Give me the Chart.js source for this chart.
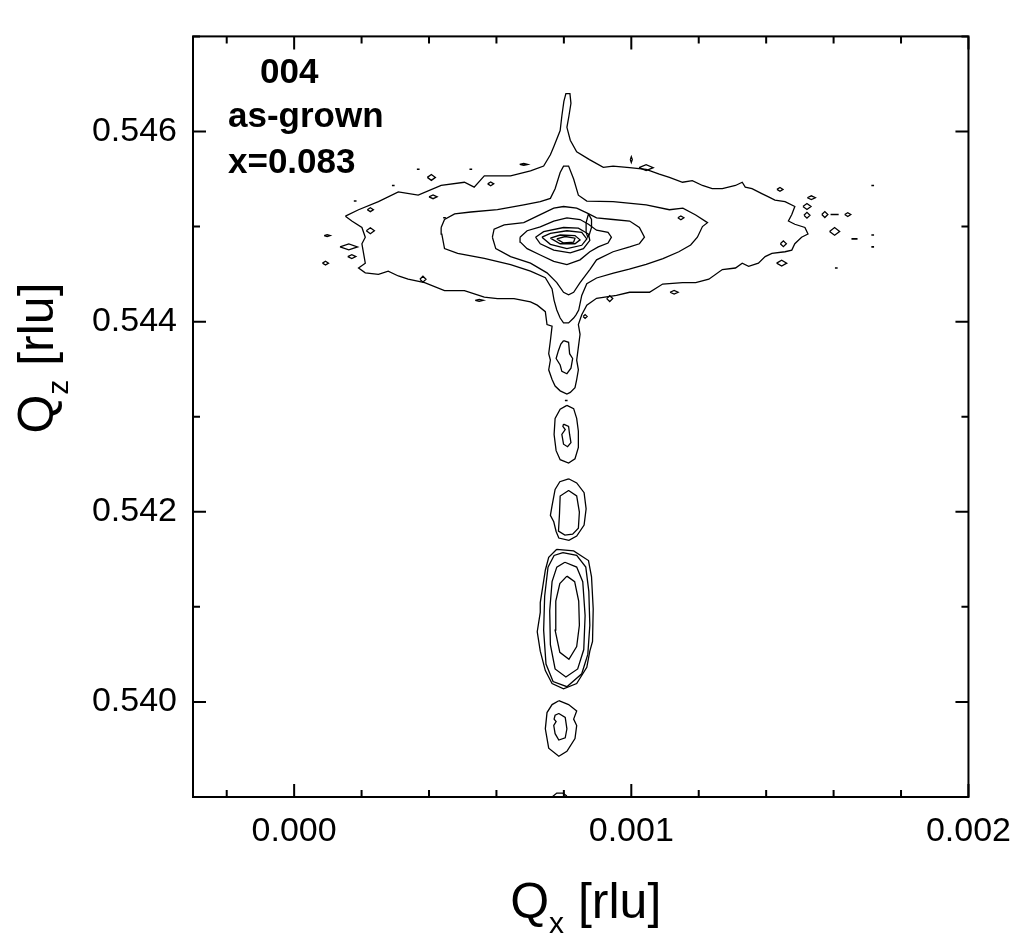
<!DOCTYPE html>
<html><head><meta charset="utf-8">
<script src="https://cdn.jsdelivr.net/npm/chart.js@4.4.1/dist/chart.umd.min.js"></script>
<style>html,body{margin:0;padding:0;background:#fff}#wrap{width:1025px;height:940px}</style>
</head><body><div id="wrap"><canvas id="c" width="1025" height="940"></canvas></div>
<script>
// ---- axes ----
const xRange = [-0.0003, 0.002];
const yRange = [0.539, 0.547];
const xMajorTicks = [0.000, 0.001, 0.002];
const xMinorTicks = [-0.0002, 0.0002, 0.0004, 0.0006, 0.0008, 0.0012, 0.0014, 0.0016, 0.0018];
const yMajorTicks = [0.540, 0.542, 0.544, 0.546];
const yMinorTicks = [0.539, 0.541, 0.543, 0.545, 0.547];
const xTitle = ['Q', 'x', ' [rlu]'];
const yTitle = ['Q', 'z', ' [rlu]'];
const annotation = ['004', 'as-grown', 'x=0.083'];

// ---- contour lines [Qx, Qz] in rlu ----
const layerOuter = [[0.000152,0.545109],[0.000191,0.545177],[0.000250,0.545262],[0.000309,0.545364],[0.000368,0.545330],[0.000436,0.545432],[0.000505,0.545466],[0.000534,0.545415],[0.000564,0.545534],[0.000642,0.545534],[0.000701,0.545585],[0.000740,0.545636],[0.000760,0.545755],[0.000770,0.545840],[0.000789,0.546010],[0.000794,0.546163],[0.000800,0.546316],[0.000806,0.546398],[0.000818,0.546398],[0.000821,0.546296],[0.000815,0.546163],[0.000809,0.546044],[0.000819,0.545908],[0.000838,0.545786],[0.000876,0.545704],[0.000917,0.545622],[0.000946,0.545636],[0.000995,0.545619],[0.001044,0.545602],[0.001083,0.545551],[0.001113,0.545517],[0.001152,0.545466],[0.001181,0.545483],[0.001211,0.545432],[0.001240,0.545398],[0.001270,0.545398],[0.001309,0.545432],[0.001329,0.545466],[0.001338,0.545415],[0.001358,0.545398],[0.001387,0.545347],[0.001407,0.545313],[0.001426,0.545279],[0.001456,0.545262],[0.001485,0.545211],[0.001476,0.545126],[0.001466,0.545058],[0.001485,0.545024],[0.001515,0.544990],[0.001524,0.544921],[0.001505,0.544888],[0.001485,0.544819],[0.001476,0.544752],[0.001456,0.544735],[0.001417,0.544717],[0.001397,0.544684],[0.001377,0.544615],[0.001348,0.544582],[0.001329,0.544615],[0.001309,0.544564],[0.001270,0.544548],[0.001230,0.544446],[0.001191,0.544411],[0.001152,0.544411],[0.001093,0.544395],[0.001054,0.544309],[0.000995,0.544309],[0.000956,0.544276],[0.000897,0.544245],[0.000868,0.544173],[0.000853,0.544072],[0.000843,0.543969],[0.000848,0.543867],[0.000843,0.543732],[0.000838,0.543595],[0.000843,0.543493],[0.000838,0.543391],[0.000833,0.543306],[0.000819,0.543255],[0.000809,0.543238],[0.000789,0.543272],[0.000774,0.543323],[0.000765,0.543391],[0.000755,0.543493],[0.000760,0.543595],[0.000755,0.543663],[0.000760,0.543799],[0.000765,0.543952],[0.000750,0.543969],[0.000745,0.544105],[0.000721,0.544173],[0.000701,0.544207],[0.000652,0.544242],[0.000603,0.544242],[0.000564,0.544258],[0.000505,0.544327],[0.000446,0.544327],[0.000387,0.544411],[0.000338,0.544446],[0.000309,0.544480],[0.000279,0.544531],[0.000250,0.544497],[0.000211,0.544513],[0.000191,0.544564],[0.000211,0.544615],[0.000201,0.544819],[0.000211,0.544888],[0.000201,0.544990],[0.000171,0.545058]];
const layerCross = [[0.000436,0.544990],[0.000446,0.545074],[0.000476,0.545133],[0.000524,0.545153],[0.000603,0.545177],[0.000681,0.545228],[0.000730,0.545262],[0.000760,0.545296],[0.000774,0.545398],[0.000789,0.545568],[0.000799,0.545636],[0.000814,0.545636],[0.000829,0.545500],[0.000843,0.545330],[0.000868,0.545268],[0.000946,0.545262],[0.001044,0.545228],[0.001113,0.545177],[0.001153,0.545194],[0.001191,0.545122],[0.001226,0.545041],[0.001211,0.545000],[0.001196,0.544888],[0.001176,0.544806],[0.001141,0.544735],[0.001094,0.544663],[0.001044,0.544602],[0.000994,0.544551],[0.000947,0.544510],[0.000897,0.544459],[0.000868,0.544398],[0.000853,0.544276],[0.000844,0.544122],[0.000836,0.544072],[0.000829,0.544038],[0.000814,0.543987],[0.000799,0.543987],[0.000789,0.544038],[0.000779,0.544122],[0.000771,0.544224],[0.000765,0.544344],[0.000745,0.544462],[0.000701,0.544531],[0.000642,0.544599],[0.000564,0.544666],[0.000485,0.544717],[0.000446,0.544768],[0.000438,0.544921]];
const layerDiamond = [[0.000588,0.544888],[0.000593,0.544972],[0.000623,0.545017],[0.000681,0.545041],[0.000730,0.545126],[0.000770,0.545194],[0.000799,0.545211],[0.000838,0.545194],[0.000868,0.545143],[0.000897,0.545092],[0.000946,0.545074],[0.000995,0.545058],[0.001024,0.544990],[0.001039,0.544888],[0.001024,0.544819],[0.000995,0.544786],[0.000946,0.544735],[0.000897,0.544650],[0.000877,0.544548],[0.000848,0.544411],[0.000829,0.544309],[0.000814,0.544283],[0.000799,0.544309],[0.000779,0.544411],[0.000750,0.544513],[0.000701,0.544615],[0.000642,0.544684],[0.000598,0.544768]];
const layerL4 = [[0.000670,0.544888],[0.000691,0.544956],[0.000730,0.544997],[0.000770,0.545058],[0.000809,0.545092],[0.000848,0.545074],[0.000873,0.545024],[0.000897,0.544962],[0.000931,0.544939],[0.000941,0.544888],[0.000931,0.544827],[0.000902,0.544786],[0.000877,0.544735],[0.000848,0.544650],[0.000809,0.544599],[0.000770,0.544633],[0.000730,0.544701],[0.000691,0.544768],[0.000671,0.544837]];
const layerL5 = [[0.000716,0.544888],[0.000740,0.544946],[0.000799,0.544990],[0.000843,0.544983],[0.000873,0.544921],[0.000877,0.544854],[0.000858,0.544768],[0.000819,0.544724],[0.000770,0.544752],[0.000730,0.544819]];
const layerL6 = [[0.000735,0.544888],[0.000760,0.544929],[0.000809,0.544956],[0.000853,0.544939],[0.000868,0.544870],[0.000853,0.544803],[0.000809,0.544768],[0.000760,0.544813]];
const layerL7 = [[0.000760,0.544878],[0.000789,0.544911],[0.000833,0.544905],[0.000848,0.544860],[0.000833,0.544819],[0.000789,0.544819]];
const layerL8 = [[0.000779,0.544870],[0.000804,0.544895],[0.000833,0.544878],[0.000829,0.544837],[0.000799,0.544827]];
const layerLens = [[0.000873,0.545133],[0.000882,0.545074],[0.000882,0.544990],[0.000876,0.544921],[0.000871,0.544888],[0.000866,0.544939],[0.000866,0.545041]];
const streakInner = [[0.000799,0.543799],[0.000814,0.543783],[0.000817,0.543663],[0.000826,0.543612],[0.000821,0.543510],[0.000809,0.543452],[0.000794,0.543477],[0.000789,0.543544],[0.000777,0.543612],[0.000784,0.543697],[0.000791,0.543765]];
const sat1Outer = [[0.000809,0.543119],[0.000829,0.543085],[0.000838,0.542983],[0.000843,0.542847],[0.000843,0.542677],[0.000833,0.542558],[0.000814,0.542513],[0.000789,0.542548],[0.000777,0.542643],[0.000771,0.542813],[0.000774,0.542983],[0.000789,0.543079]];
const sat1Inner = [[0.000799,0.542922],[0.000814,0.542898],[0.000817,0.542813],[0.000821,0.542728],[0.000811,0.542684],[0.000799,0.542711],[0.000794,0.542813],[0.000804,0.542864],[0.000797,0.542898]];
const sat2Outer = [[0.000814,0.542347],[0.000838,0.542303],[0.000860,0.542201],[0.000866,0.542031],[0.000860,0.541860],[0.000838,0.541745],[0.000815,0.541699],[0.000785,0.541724],[0.000777,0.541793],[0.000770,0.541895],[0.000760,0.541962],[0.000765,0.542064],[0.000774,0.542235],[0.000788,0.542316]];
const sat2Inner = [[0.000814,0.542224],[0.000838,0.542166],[0.000846,0.541997],[0.000843,0.541827],[0.000826,0.541765],[0.000803,0.541755],[0.000784,0.541796],[0.000787,0.541980],[0.000789,0.542166]];
const subC1 = [[0.000779,0.541605],[0.000829,0.541589],[0.000873,0.541487],[0.000882,0.541316],[0.000887,0.540977],[0.000885,0.540636],[0.000877,0.540534],[0.000868,0.540364],[0.000838,0.540194],[0.000799,0.540138],[0.000765,0.540194],[0.000745,0.540330],[0.000730,0.540534],[0.000721,0.540738],[0.000730,0.540942],[0.000730,0.541044],[0.000745,0.541385],[0.000755,0.541520]];
const subC2 = [[0.000797,0.541571],[0.000838,0.541541],[0.000865,0.541418],[0.000874,0.541163],[0.000877,0.540806],[0.000871,0.540500],[0.000853,0.540296],[0.000809,0.540160],[0.000768,0.540214],[0.000747,0.540398],[0.000740,0.540755],[0.000743,0.541112],[0.000753,0.541418],[0.000771,0.541541]];
const subC3 = [[0.000803,0.541469],[0.000838,0.541418],[0.000856,0.541265],[0.000863,0.540908],[0.000859,0.540551],[0.000841,0.540347],[0.000806,0.540262],[0.000774,0.540347],[0.000760,0.540602],[0.000758,0.540959],[0.000765,0.541265],[0.000779,0.541418]];
const subC4 = [[0.000809,0.541323],[0.000832,0.541265],[0.000844,0.541061],[0.000846,0.540806],[0.000838,0.540582],[0.000815,0.540449],[0.000788,0.540521],[0.000774,0.540755],[0.000776,0.541061],[0.000788,0.541245]];
const sat3Outer = [[0.000785,0.540013],[0.000814,0.539972],[0.000838,0.539905],[0.000829,0.539819],[0.000838,0.539752],[0.000833,0.539615],[0.000809,0.539480],[0.000785,0.539429],[0.000755,0.539513],[0.000745,0.539717],[0.000750,0.539888],[0.000765,0.539972]];
const sat3Inner = [[0.000785,0.539878],[0.000804,0.539837],[0.000809,0.539717],[0.000804,0.539622],[0.000785,0.539599],[0.000774,0.539666],[0.000770,0.539752],[0.000777,0.539793],[0.000771,0.539819],[0.000774,0.539860]];
const bottomArc = [[0.000765,0.539000],[0.000779,0.539041],[0.000797,0.539041],[0.000809,0.539010]];
const islands = [
 [[0.000395,0.545517],[0.000407,0.545548],[0.000419,0.545517],[0.000407,0.545486]],
 [[0.000400,0.545313],[0.000412,0.545333],[0.000424,0.545313],[0.000412,0.545293]],
 [[0.000574,0.545449],[0.000583,0.545469],[0.000592,0.545449],[0.000583,0.545429]],
 [[0.000217,0.545177],[0.000226,0.545197],[0.000235,0.545177],[0.000226,0.545157]],
 [[0.000214,0.544956],[0.000226,0.544987],[0.000238,0.544956],[0.000226,0.544925]],
 [[0.000136,0.544786],[0.000162,0.544817],[0.000188,0.544786],[0.000162,0.544755]],
 [[0.000159,0.544684],[0.000171,0.544704],[0.000183,0.544684],[0.000171,0.544664]],
 [[0.000084,0.544615],[0.000093,0.544635],[0.000102,0.544615],[0.000093,0.544595]],
 [[0.000089,0.544905],[0.000098,0.544915],[0.000107,0.544905],[0.000098,0.544895]],
 [[0.000373,0.544446],[0.000382,0.544477],[0.000391,0.544446],[0.000382,0.544415]],
 [[0.000537,0.544224],[0.000549,0.544234],[0.000561,0.544224],[0.000549,0.544214]],
 [[0.000927,0.544242],[0.000936,0.544273],[0.000945,0.544242],[0.000936,0.544211]],
 [[0.001115,0.544309],[0.001127,0.544329],[0.001139,0.544309],[0.001127,0.544289]],
 [[0.001138,0.545092],[0.001147,0.545112],[0.001156,0.545092],[0.001147,0.545072]],
 [[0.001023,0.545619],[0.001044,0.545650],[0.001065,0.545619],[0.001044,0.545588]],
 [[0.000669,0.545653],[0.000681,0.545663],[0.000693,0.545653],[0.000681,0.545643]],
 [[0.000997,0.545704],[0.001000,0.545735],[0.001003,0.545704],[0.001000,0.545673]],
 [[0.000857,0.544054],[0.000863,0.544074],[0.000869,0.544054],[0.000863,0.544034]],
 [[0.001432,0.545391],[0.001441,0.545411],[0.001450,0.545391],[0.001441,0.545371]],
 [[0.001522,0.545303],[0.001534,0.545323],[0.001546,0.545303],[0.001534,0.545283]],
 [[0.001509,0.545211],[0.001521,0.545242],[0.001533,0.545211],[0.001521,0.545180]],
 [[0.001512,0.545119],[0.001521,0.545150],[0.001530,0.545119],[0.001521,0.545088]],
 [[0.001565,0.545126],[0.001574,0.545157],[0.001583,0.545126],[0.001574,0.545095]],
 [[0.001633,0.545126],[0.001642,0.545146],[0.001651,0.545126],[0.001642,0.545106]],
 [[0.001588,0.544949],[0.001603,0.544990],[0.001618,0.544949],[0.001603,0.544908]],
 [[0.001442,0.544819],[0.001451,0.544850],[0.001460,0.544819],[0.001451,0.544788]],
 [[0.001431,0.544615],[0.001446,0.544646],[0.001461,0.544615],[0.001446,0.544584]]
];
const dashes = [
 [[0.001591,0.545126],[0.001615,0.545126]],
 [[0.001653,0.544870],[0.001671,0.544870]],
 [[0.000364,0.545602],[0.000372,0.545602]],
 [[0.000290,0.545432],[0.000298,0.545432]],
 [[0.000177,0.545268],[0.000185,0.545268]],
 [[0.000520,0.545602],[0.000528,0.545602]],
 [[0.001604,0.544564],[0.001612,0.544564]],
 [[0.001712,0.545432],[0.001720,0.545432]],
 [[0.001712,0.544911],[0.001720,0.544911]],
 [[0.001712,0.544786],[0.001720,0.544786]],
 [[0.000442,0.545092],[0.000450,0.545092]],
 [[0.000803,0.543170],[0.000811,0.543170]]
];

const closedLoops = [layerOuter, layerCross, layerDiamond, layerL4, layerL5, layerL6, layerL7, layerL8, layerLens,
  streakInner, sat1Outer, sat1Inner, sat2Outer, sat2Inner, subC1, subC2, subC3, subC4, sat3Outer, sat3Inner];

function toPts(arr, close) {
  const p = arr.map(d => ({x: d[0], y: d[1]}));
  if (close) p.push({x: arr[0][0], y: arr[0][1]});
  return p;
}
function joinPieces(pieces, close) {
  const out = [];
  pieces.forEach((pc, i) => { if (i) out.push({x: NaN, y: null}); toPts(pc, close).forEach(q => out.push(q)); });
  return out;
}
const lineStyle = {showLine: true, pointRadius: 0, borderColor: '#000', borderWidth: 1.3, fill: false, tension: 0, spanGaps: false};
const datasets = closedLoops.map(c => Object.assign({data: toPts(c, true)}, lineStyle));
datasets.push(Object.assign({data: toPts(bottomArc, false)}, lineStyle));
datasets.push(Object.assign({data: joinPieces(islands, true)}, lineStyle));
datasets.push(Object.assign({data: joinPieces(dashes, false)}, lineStyle, {borderWidth: 1.6}));

const FONT = '"Liberation Sans", Arial, Helvetica, sans-serif';

function drawSubTitle(ctx, parts, size) {
  const f1 = size + 'px ' + FONT, f2 = Math.round(size * 0.6) + 'px ' + FONT;
  ctx.font = f1; const w1 = ctx.measureText(parts[0]).width, w3 = ctx.measureText(parts[2]).width;
  ctx.font = f2; const w2 = ctx.measureText(parts[1]).width;
  let xx = -(w1 + w2 + w3) / 2;
  ctx.font = f1; ctx.fillText(parts[0], xx, 0); xx += w1;
  ctx.font = f2; ctx.fillText(parts[1], xx, size * 0.3); xx += w2;
  ctx.font = f1; ctx.fillText(parts[2], xx, 0);
}

const framePlugin = {
  id: 'frame',
  afterDraw(chart) {
    const {ctx, chartArea: a} = chart;
    const xs = chart.scales.x, ys = chart.scales.y;
    ctx.save();
    ctx.strokeStyle = '#000'; ctx.lineWidth = 2; ctx.lineCap = 'butt';
    ctx.strokeRect(a.left, a.top, a.right - a.left, a.bottom - a.top);
    ctx.beginPath();
    const xt = (v, len) => { const p = xs.getPixelForValue(v); ctx.moveTo(p, a.bottom); ctx.lineTo(p, a.bottom - len); ctx.moveTo(p, a.top); ctx.lineTo(p, a.top + len); };
    const yt = (v, len) => { const p = ys.getPixelForValue(v); ctx.moveTo(a.left, p); ctx.lineTo(a.left + len, p); ctx.moveTo(a.right, p); ctx.lineTo(a.right - len, p); };
    xMajorTicks.forEach(v => xt(v, 13)); xMinorTicks.forEach(v => xt(v, 7));
    yMajorTicks.forEach(v => yt(v, 13)); yMinorTicks.forEach(v => yt(v, 7));
    ctx.stroke();
    ctx.fillStyle = '#000'; ctx.textAlign = 'left'; ctx.textBaseline = 'alphabetic';
    ctx.font = 'bold 35px ' + FONT;
    ctx.fillText(annotation[0], a.left + 67, a.top + 47);
    ctx.fillText(annotation[1], a.left + 35, a.top + 91);
    ctx.fillText(annotation[2], a.left + 35, a.top + 137);
    ctx.save(); ctx.translate((a.left + a.right) / 2 + 5, 918); drawSubTitle(ctx, xTitle, 50); ctx.restore();
    ctx.save(); ctx.translate(53, 358); ctx.rotate(-Math.PI / 2); drawSubTitle(ctx, yTitle, 50); ctx.restore();
    ctx.restore();
  }
};

new Chart(document.getElementById('c'), {
  type: 'scatter',
  data: {datasets},
  options: {
    responsive: false, animation: false, devicePixelRatio: 1,
    layout: {padding: {left: 0, right: 49, top: 13, bottom: 0}},
    plugins: {legend: {display: false}, tooltip: {enabled: false}},
    scales: {
      x: {
        type: 'linear', min: xRange[0], max: xRange[1],
        afterBuildTicks: s => { s.ticks = xMajorTicks.map(v => ({value: v})); },
        afterFit: s => { s.height = 143; },
        grid: {display: false, drawTicks: false}, border: {display: false},
        ticks: {padding: 14, color: '#000', font: {size: 34, family: FONT}, maxRotation: 0, autoSkip: false,
                callback: v => Number(v).toFixed(3)}
      },
      y: {
        type: 'linear', min: yRange[0], max: yRange[1],
        afterBuildTicks: s => { s.ticks = yMajorTicks.map(v => ({value: v})); },
        afterFit: s => { s.width = 193; },
        grid: {display: false, drawTicks: false}, border: {display: false},
        ticks: {padding: 16, color: '#000', font: {size: 34, family: FONT}, autoSkip: false,
                callback: v => Number(v).toFixed(3)}
      }
    }
  },
  plugins: [framePlugin]
});
</script></body></html>
